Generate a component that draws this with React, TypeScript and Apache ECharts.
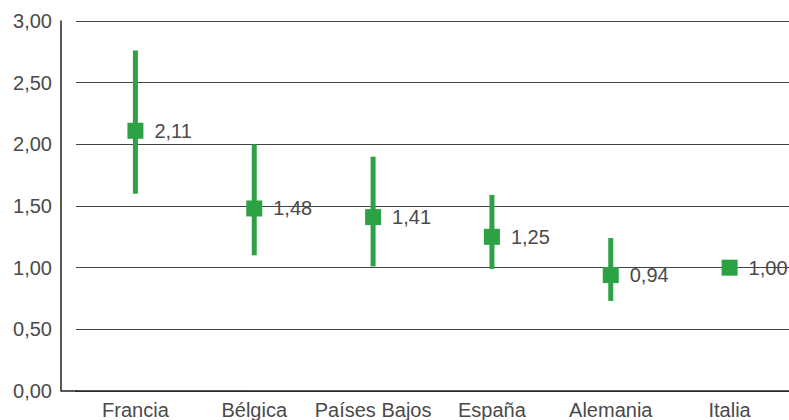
import React, { useEffect, useRef } from "react";
import * as echarts from "echarts";

const categories = ["Francia", "Bélgica", "Países Bajos", "España", "Alemania", "Italia"];
const values = [2.11, 1.48, 1.41, 1.25, 0.94, 1.0];
const lows = [1.6, 1.1, 1.01, 0.99, 0.73, null];
const highs = [2.76, 2.0, 1.9, 1.59, 1.24, null];

const GREEN = "#2ca244";
const TEXT = "#4a4a4a";
const FONT = "'Liberation Sans', Arial, sans-serif";
const fmt = (v: number) => v.toFixed(2).replace(".", ",");

export default function App() {
  const ref = useRef<HTMLDivElement>(null);
  useEffect(() => {
    if (!ref.current) return;
    const chart = echarts.init(ref.current, undefined, { renderer: "svg" });
    const errData = categories
      .map((c, i) => (lows[i] != null ? [i, lows[i], highs[i]] : null))
      .filter((d) => d !== null);
    chart.setOption({
      animation: false,
      grid: { left: 76, right: 0, top: 21, bottom: 29 },
      xAxis: {
        type: "category",
        data: categories,
        axisLine: { lineStyle: { color: "#222", width: 1.5 } },
        axisTick: { show: false },
        axisLabel: { color: TEXT, fontSize: 20, fontFamily: FONT, margin: 9, interval: 0 },
      },
      yAxis: {
        type: "value",
        min: 0,
        max: 3,
        interval: 0.5,
        offset: 15,
        axisLine: { show: true, lineStyle: { color: "#222", width: 1.5 } },
        axisTick: { show: false },
        splitLine: { lineStyle: { color: "#444", width: 1 } },
        axisLabel: { color: TEXT, fontSize: 20, fontFamily: FONT, margin: 9, formatter: (v: number) => fmt(v) },
      },
      series: [
        {
          type: "custom",
          data: errData,
          z: 2,
          renderItem: (params: any, api: any) => {
            const x = api.value(0);
            const lo = api.coord([x, api.value(1)]);
            const hi = api.coord([x, api.value(2)]);
            return {
              type: "line",
              shape: { x1: lo[0], y1: lo[1], x2: hi[0], y2: hi[1] },
              style: { stroke: GREEN, lineWidth: 5 },
            };
          },
        },
        {
          type: "scatter",
          data: values,
          symbol: "rect",
          symbolSize: 16,
          z: 3,
          itemStyle: { color: GREEN, opacity: 1 },
          label: {
            show: true,
            position: "right",
            distance: 11,
            color: TEXT,
            fontSize: 20,
            fontFamily: FONT,
            formatter: (p: any) => fmt(p.value),
          },
        },
      ],
    });
    const p0 = chart.convertToPixel({ gridIndex: 0 }, [0, 0]);
    chart.setOption({
      graphic: [
        {
          type: "line",
          shape: { x1: 61, y1: p0[1], x2: 77, y2: p0[1] },
          style: { stroke: "#222", lineWidth: 1.5 },
        },
      ],
    });
    return () => chart.dispose();
  }, []);
  return <div ref={ref} style={{ width: 789, height: 420, position: "absolute", left: 0, top: 0 }} />;
}
